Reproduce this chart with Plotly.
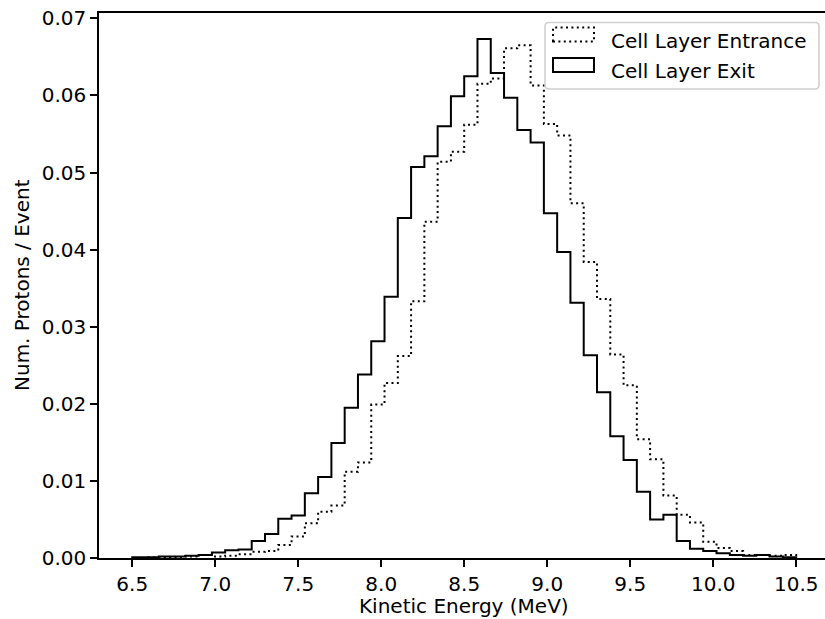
import numpy as np
import plotly.graph_objects as go

# ---- data ----
BIN_START = 6.5
BIN_WIDTH = 0.08
N_BINS = 50

entrance = [0.0000, 0.0001, 0.0001, 0.0001, 0.0002, 0.0004, 0.0002, 0.0003, 0.0005, 0.0008,
            0.0009, 0.0017, 0.0028, 0.0045, 0.0060, 0.0068, 0.0112, 0.0124, 0.0199, 0.0227,
            0.0262, 0.0333, 0.0436, 0.0514, 0.0527, 0.0562, 0.0615, 0.0622, 0.0661, 0.0665,
            0.0613, 0.0563, 0.0548, 0.0460, 0.0384, 0.0336, 0.0264, 0.0224, 0.0154, 0.0128,
            0.0081, 0.0056, 0.0046, 0.0021, 0.0013, 0.0009, 0.0004, 0.0004, 0.0003, 0.0004]

exit_ = [0.0001, 0.0001, 0.0002, 0.0002, 0.0003, 0.0004, 0.0007, 0.0010, 0.0011, 0.0022,
         0.0031, 0.0051, 0.0055, 0.0084, 0.0105, 0.0149, 0.0195, 0.0238, 0.0281, 0.0339,
         0.0441, 0.0507, 0.0521, 0.0560, 0.0599, 0.0625, 0.0673, 0.0629, 0.0597, 0.0555,
         0.0539, 0.0447, 0.0397, 0.0331, 0.0263, 0.0215, 0.0158, 0.0127, 0.0086, 0.0050,
         0.0056, 0.0022, 0.0012, 0.0009, 0.0006, 0.0004, 0.0003, 0.0004, 0.0002, 0.0001]

series_names = ["Cell Layer Entrance", "Cell Layer Exit"]
x_tick_vals = [6.5, 7.0, 7.5, 8.0, 8.5, 9.0, 9.5, 10.0, 10.5]
x_tick_text = ["6.5", "7.0", "7.5", "8.0", "8.5", "9.0", "9.5", "10.0", "10.5"]
y_tick_vals = [0.00, 0.01, 0.02, 0.03, 0.04, 0.05, 0.06, 0.07]
y_tick_text = ["0.00", "0.01", "0.02", "0.03", "0.04", "0.05", "0.06", "0.07"]
x_title = "Kinetic Energy (MeV)"
y_title = "Num. Protons / Event"

# ---- layout geometry ----
W, H = 825, 619
ML, MR, MT, MB = 99, 0, 13, 61
PW, PH = W - ML - MR, H - MT - MB
FONT = "DejaVu Sans"
FS = 20


def px(x):
    return (x - ML) / PW


def py(y):
    return (H - MB - y) / PH


edges = BIN_START + BIN_WIDTH * np.arange(N_BINS + 1)


def step_xy(vals):
    xs = np.concatenate([[edges[0]], edges])
    ys = np.concatenate([[0.0], np.asarray(vals, dtype=float), [0.0]])
    return xs, ys


fig = go.Figure()
dot_dash = "2px,3.4px"
for vals, name, dash in [(entrance, series_names[0], dot_dash), (exit_, series_names[1], "solid")]:
    xs, ys = step_xy(vals)
    fig.add_trace(go.Scatter(x=xs, y=ys, mode="lines", name=name,
                             line=dict(color="black", width=2, shape="hv", dash=dash),
                             showlegend=False, hoverinfo="skip"))

# x range: 6.3 at left edge, 166 px per MeV
x0 = 6.3
x1 = x0 + PW / 166.0
y1 = PH / 7710.0

fig.update_layout(
    width=W, height=H,
    margin=dict(l=ML, r=MR, t=MT, b=MB, pad=0),
    paper_bgcolor="white", plot_bgcolor="white",
    font=dict(family=FONT, size=FS, color="black"),
    xaxis=dict(range=[x0, x1], tickvals=x_tick_vals, ticktext=x_tick_text,
               ticks="outside", ticklen=7, tickwidth=1.6, tickcolor="black",
               showline=True, linewidth=1.6, linecolor="black", mirror=True,
               showgrid=False, zeroline=False,
               tickfont=dict(family=FONT, size=FS, color="black")),
    yaxis=dict(range=[0, y1], tickvals=y_tick_vals, ticktext=y_tick_text,
               ticks="outside", ticklen=7, tickwidth=1.6, tickcolor="black",
               showline=True, linewidth=1.6, linecolor="black", mirror=False,
               showgrid=False, zeroline=False,
               tickfont=dict(family=FONT, size=FS, color="black")),
    showlegend=False,
)

# axis titles
fig.add_annotation(text=x_title, xref="paper", yref="paper", x=px(464), y=py(606),
                   xanchor="center", yanchor="middle", showarrow=False,
                   font=dict(family=FONT, size=FS, color="black"))
fig.add_annotation(text=y_title, xref="paper", yref="paper", x=px(22), y=py(285),
                   xanchor="center", yanchor="middle", showarrow=False, textangle=-90,
                   font=dict(family=FONT, size=FS, color="black"))

# legend box (rounded)
lx0, lx1, ly0, ly1, r = 545, 819, 22.5, 89, 4


def rounded_path(x0_, y0_, x1_, y1_, rr):
    pts = []
    pts.append(f"M {px(x0_ + rr)} {py(y0_)}")
    pts.append(f"L {px(x1_ - rr)} {py(y0_)}")
    pts.append(f"Q {px(x1_)} {py(y0_)} {px(x1_)} {py(y0_ + rr)}")
    pts.append(f"L {px(x1_)} {py(y1_ - rr)}")
    pts.append(f"Q {px(x1_)} {py(y1_)} {px(x1_ - rr)} {py(y1_)}")
    pts.append(f"L {px(x0_ + rr)} {py(y1_)}")
    pts.append(f"Q {px(x0_)} {py(y1_)} {px(x0_)} {py(y1_ - rr)}")
    pts.append(f"L {px(x0_)} {py(y0_ + rr)}")
    pts.append(f"Q {px(x0_)} {py(y0_)} {px(x0_ + rr)} {py(y0_)} Z")
    return " ".join(pts)


fig.add_shape(type="path", xref="paper", yref="paper", path=rounded_path(lx0, ly0, lx1, ly1, r),
              line=dict(color="#d0d0d0", width=1.6), fillcolor="rgba(255,255,255,0.8)", layer="above")

# legend handles and labels
handles = [(27.5, 41.5, dot_dash, 48.3), (58, 72, "solid", 78.3)]
for (hy0, hy1, dash, base), name in zip(handles, series_names):
    fig.add_shape(type="rect", xref="paper", yref="paper",
                  x0=px(553), x1=px(594), y0=py(hy1), y1=py(hy0),
                  line=dict(color="black", width=2, dash=dash), fillcolor="rgba(0,0,0,0)", layer="above")
    fig.add_annotation(text=name, xref="paper", yref="paper", x=px(609), y=py(base - 7),
                       xanchor="left", yanchor="middle", showarrow=False,
                       font=dict(family=FONT, size=FS, color="black"))

fig.write_html("out.html",
               config={"displayModeBar": False},
               post_script="document.body.style.margin='0';document.body.style.overflow='hidden';")
